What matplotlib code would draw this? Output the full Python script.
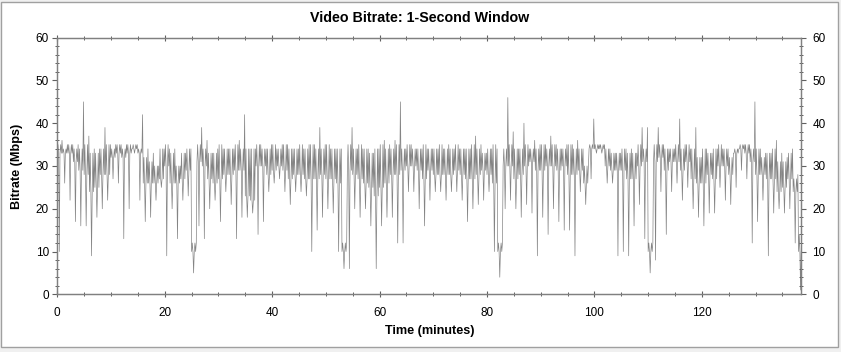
import numpy as np
import matplotlib
matplotlib.use("Agg")
import matplotlib.pyplot as plt
from matplotlib.ticker import MultipleLocator
from matplotlib.patches import Rectangle

plt.rcParams['font.family'] = ['Liberation Sans', 'DejaVu Sans']

# per-minute readings (Mbps): dark core level, top of the grey band,
# deepest dip and highest spike in that minute
level = [33, 33, 33, 31, 29, 28, 24, 25, 28, 28,
         32, 33, 32, 33, 34, 33, 26, 26, 26, 27,
         30, 26, 26, 27, 29, 10, 31, 30, 27, 26,
         27, 28, 28, 29, 29, 23, 22, 30, 30, 28,
         29, 30, 29, 27, 28, 28, 27, 27, 27, 28,
         27, 27, 26, 10, 29, 28, 27, 26, 25, 23,
         25, 26, 28, 28, 29, 30, 30, 29, 27, 29,
         28, 28, 28, 28, 29, 28, 27, 27, 28, 29,
         28, 26, 10, 30, 30, 27, 28, 30, 31, 29,
         29, 30, 30, 29, 30, 28, 28, 29, 26, 34,
         34, 34, 30, 29, 29, 29, 27, 27, 30, 31,
         10, 31, 32, 29, 31, 31, 29, 31, 27, 26,
         26, 28, 27, 30, 30, 28, 33, 34, 33, 31,
         28, 28, 27, 27, 24, 25, 27, 24, 10]
upper = [35, 34, 35, 34, 34, 35, 33, 33, 34, 35,
         34, 35, 34, 35, 35, 34, 32, 31, 30, 34,
         35, 33, 30, 33, 34, 12, 35, 34, 33, 33,
         35, 34, 34, 35, 34, 34, 34, 35, 34, 34,
         35, 34, 35, 34, 34, 35, 34, 35, 34, 34,
         35, 34, 34, 12, 35, 34, 35, 34, 33, 34,
         35, 34, 34, 35, 34, 35, 34, 34, 35, 34,
         34, 35, 34, 34, 35, 34, 34, 35, 34, 33,
         34, 35, 12, 34, 35, 34, 34, 35, 34, 34,
         35, 34, 35, 34, 34, 35, 34, 34, 30, 35,
         35, 35, 34, 33, 33, 34, 33, 33, 35, 34,
         12, 35, 35, 34, 34, 35, 34, 35, 34, 32,
         34, 33, 34, 35, 34, 32, 34, 35, 35, 34,
         34, 32, 33, 34, 31, 31, 33, 27, 14]
dip = [10, 26, 22, 17, 16, 16, 9, 18, 20, 22,
       27, 26, 13, 20, 33, 22, 17, 18, 22, 25,
       9, 20, 13, 22, 23, 5, 16, 13, 20, 22,
       17, 24, 21, 13, 18, 18, 19, 14, 17, 24,
       26, 27, 24, 21, 24, 24, 23, 10, 15, 18,
       20, 19, 10, 6, 6, 20, 18, 20, 16, 6,
       16, 18, 18, 12, 12, 24, 24, 20, 16, 22,
       24, 24, 22, 24, 24, 22, 17, 20, 21, 22,
       24, 10, 4, 20, 22, 20, 18, 21, 19, 9,
       18, 14, 20, 17, 15, 15, 9, 24, 21, 27,
       33, 33, 26, 26, 9, 10, 9, 16, 21, 13,
       5, 8, 24, 14, 24, 26, 22, 25, 20, 18,
       16, 19, 19, 25, 22, 21, 25, 29, 27, 12,
       17, 22, 9, 19, 20, 19, 20, 12, 1]
peak = [36, 35, 35, 35, 45, 37, 34, 34, 39, 35,
        35, 35, 35, 34, 35, 42, 34, 33, 30, 34,
        34, 34, 30, 33, 34, 12, 39, 36, 33, 34,
        34, 34, 34, 36, 42, 34, 34, 35, 34, 35,
        34, 35, 35, 34, 34, 34, 35, 35, 39, 35,
        34, 34, 34, 12, 39, 34, 34, 34, 33, 34,
        36, 35, 36, 45, 34, 35, 34, 34, 34, 34,
        34, 34, 35, 34, 34, 34, 34, 37, 35, 33,
        34, 34, 12, 46, 38, 34, 40, 34, 36, 35,
        35, 37, 35, 34, 35, 35, 36, 34, 30, 41,
        35, 35, 34, 33, 33, 34, 34, 33, 39, 39,
        12, 39, 35, 34, 34, 41, 35, 34, 39, 32,
        34, 33, 34, 34, 34, 33, 34, 35, 35, 45,
        34, 33, 33, 36, 33, 32, 34, 28, 16]

# one trace, eight samples per minute: level -> top -> level -> dip ...
minutes = np.arange(len(level))
offs = np.arange(8) / 8
t = (minutes[:, None] + offs).ravel()
rate = np.column_stack([level, upper, level, dip,
                        level, upper, level, peak]).ravel()

fig = plt.figure(figsize=(8.41, 3.52), dpi=100)
fig.patch.set_facecolor('#f0f0f0')
fig.patches.append(Rectangle((1 / 841, 5 / 352), 837 / 841, 345.5 / 352,
                             transform=fig.transFigure, facecolor='white',
                             edgecolor='#a0a0a0', linewidth=1, zorder=-5))

ax = fig.add_axes([57.3 / 841, 1 - 294.3 / 352, 743.4 / 841, 256.6 / 352])
ax.set_facecolor('none')
ax.plot(t, rate, color='#666666', linewidth=0.5, alpha=0.8)

ax.set_xlim(0, 138.4)
ax.set_ylim(0, 60)
ax.xaxis.set_major_locator(MultipleLocator(20))
ax.xaxis.set_minor_locator(MultipleLocator(5))
ax.yaxis.set_major_locator(MultipleLocator(10))
ax.yaxis.set_minor_locator(MultipleLocator(2))

for s in ax.spines.values():
    s.set_color('#808080')
    s.set_linewidth(0.9)

ax.tick_params(axis='x', which='major', direction='inout', length=5, width=0.8,
               color='#606060', top=True, pad=7, labelsize=8.5)
ax.tick_params(axis='x', which='minor', direction='inout', length=2.5, width=0.7,
               color='#606060', top=True)
ax.tick_params(axis='y', which='major', direction='out', length=3.6, width=0.8,
               color='#606060', pad=2.5, labelsize=8.5)
ax.tick_params(axis='y', which='minor', direction='inout', length=3, width=0.7,
               color='#606060')

ax2 = ax.twinx()
ax2.set_ylim(0, 60)
ax2.yaxis.set_major_locator(MultipleLocator(10))
ax2.yaxis.set_minor_locator(MultipleLocator(2))
ax2.tick_params(axis='y', which='major', direction='out', length=3.8, width=0.8,
                color='#606060', pad=4.5, labelsize=8.5)
ax2.tick_params(axis='y', which='minor', direction='inout', length=3, width=0.7,
                color='#606060')
for s in ax2.spines.values():
    s.set_color('#808080')
    s.set_linewidth(0.9)

fig.text(420 / 841, 1 - 18 / 352, 'Video Bitrate: 1-Second Window',
         ha='center', va='center', fontsize=10.3, fontweight='bold')
fig.text(430 / 841, 1 - 331 / 352, 'Time (minutes)',
         ha='center', va='center', fontsize=9.1, fontweight='bold')
fig.text(16.7 / 841, 1 - 166 / 352, 'Bitrate (Mbps)', rotation=90,
         ha='center', va='center', fontsize=9.1, fontweight='bold')

fig.savefig('out.png', dpi=100, facecolor=fig.get_facecolor())
